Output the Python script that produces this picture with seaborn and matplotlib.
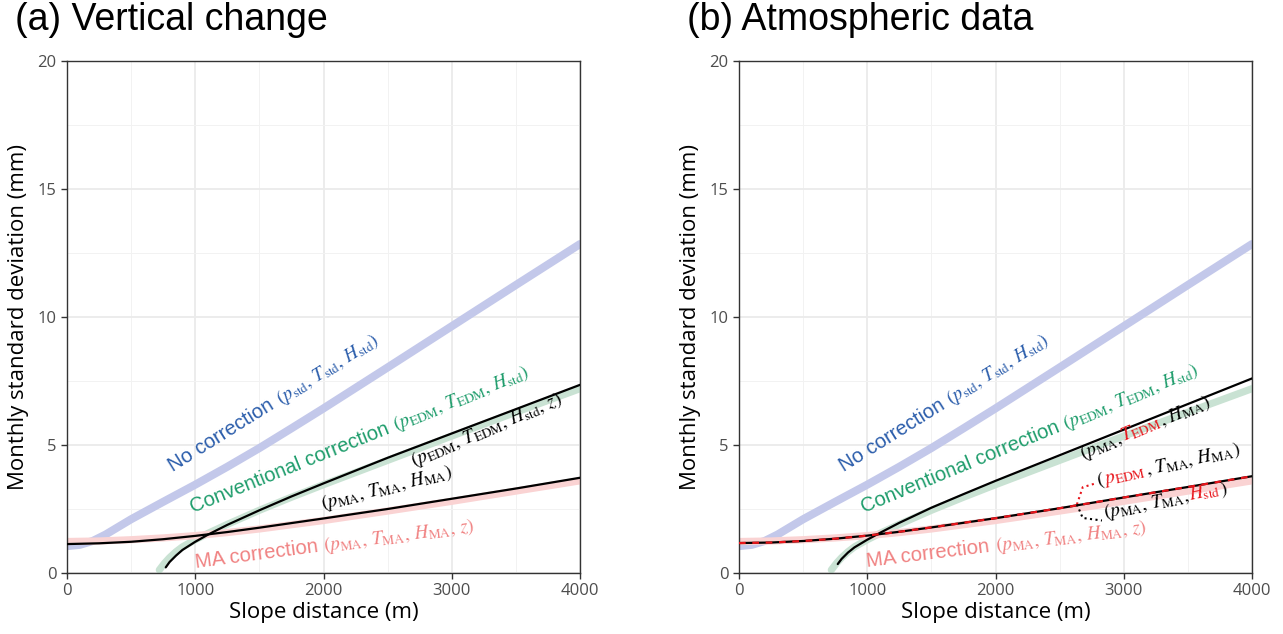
import numpy as np
import pandas as pd
import matplotlib
matplotlib.use('Agg')
import matplotlib.pyplot as plt
from matplotlib.transforms import IdentityTransform
import seaborn as sns

# ---------------- data ----------------
x_none = [0, 100, 200, 300, 400, 500, 750, 1000, 1250, 1500, 1750, 2000, 2500, 3000, 3500, 4000]
y_none = [1.05, 1.1, 1.25, 1.5, 1.8, 2.1, 2.78, 3.45, 4.15, 4.88, 5.65, 6.43, 8.03, 9.64, 11.25, 12.85]

x_conv = [720, 760, 800, 850, 900, 1000, 1100, 1250, 1500, 1750, 2000, 2500, 3000, 3500, 4000]
y_conv = [0.12, 0.38, 0.6, 0.83, 1.02, 1.3, 1.55, 1.9, 2.45, 2.96, 3.45, 4.4, 5.35, 6.28, 7.2]

x_ma = [0, 250, 500, 750, 1000, 1250, 1500, 2000, 2500, 3000, 3500, 4000]
y_ma = [1.23, 1.25, 1.3, 1.37, 1.46, 1.58, 1.72, 2.05, 2.42, 2.8, 3.2, 3.6]

x_blk_conv = [770, 800, 850, 900, 1000, 1100, 1250, 1500, 1750, 2000, 2500, 3000, 3500, 4000]
y_blk_conv_a = [0.22, 0.43, 0.68, 0.9, 1.22, 1.5, 1.88, 2.45, 2.99, 3.5, 4.5, 5.45, 6.4, 7.35]
y_blk_conv_b = [0.35, 0.55, 0.8, 1.0, 1.3, 1.57, 1.96, 2.55, 3.08, 3.6, 4.6, 5.6, 6.6, 7.6]

y_blk_ma_a = [1.13, 1.16, 1.22, 1.32, 1.45, 1.6, 1.77, 2.13, 2.5, 2.9, 3.3, 3.72]
y_blk_ma_b = [1.17, 1.19, 1.25, 1.34, 1.46, 1.61, 1.78, 2.14, 2.53, 2.95, 3.36, 3.78]

titles = ['(a) Vertical change', '(b) Atmospheric data']

# ---------------- style ----------------
sns.set_theme(style='ticks')
plt.rcParams['font.family'] = ['Liberation Sans', 'DejaVu Sans']
plt.rcParams['mathtext.fontset'] = 'stix'

C_BLUE_L, C_BLUE_T = '#c3c8ea', '#2b5dab'
C_GREEN_L, C_GREEN_T = '#c9e2d3', '#1f9d6c'
C_PINK_L, C_PINK_T = '#fad3d3', '#f08282'
C_RED = '#e8151b'

SANS_SZ = 14.6
MATH_SZ = 13.8

fig = plt.figure(figsize=(12.83, 6.34), dpi=100)
renderer = fig.canvas.get_renderer()

lefts = [67 / 1283, 739 / 1283]
axes = []
for i, l in enumerate(lefts):
    ax = fig.add_axes([l, 61 / 634, 513 / 1283, 512 / 634])
    axes.append(ax)

df_none = pd.DataFrame({'x': x_none, 'y': y_none})
df_conv = pd.DataFrame({'x': x_conv, 'y': y_conv})
df_ma = pd.DataFrame({'x': x_ma, 'y': y_ma})


def rich_text(ax, x, y, parts, angle):
    # draw a rotated string made of several coloured pieces
    px, py = ax.transData.transform((x, y))
    th = np.deg2rad(angle)
    for s, color in parts:
        size = MATH_SZ if s.startswith('$') else SANS_SZ
        ax.text(px, py, s, transform=IdentityTransform(), rotation=angle,
                rotation_mode='anchor', ha='left', va='baseline',
                color=color, fontsize=size, zorder=5)
        tmp = fig.text(0, 0, s, fontsize=size)
        w = tmp.get_window_extent(renderer).width
        tmp.remove()
        px += w * np.cos(th)
        py += w * np.sin(th)


for i, ax in enumerate(axes):
    sns.lineplot(data=df_none, x='x', y='y', ax=ax, color=C_BLUE_L, lw=5.8, zorder=2)
    sns.lineplot(data=df_conv, x='x', y='y', ax=ax, color=C_GREEN_L, lw=5.2, zorder=2)
    sns.lineplot(data=df_ma, x='x', y='y', ax=ax, color=C_PINK_L, lw=5.2, zorder=2)

    y_c = y_blk_conv_a if i == 0 else y_blk_conv_b
    y_m = y_blk_ma_a if i == 0 else y_blk_ma_b
    ax.plot(x_blk_conv, y_c, color='black', lw=1.6, zorder=3)
    ax.plot(x_ma, y_m, color='black', lw=1.6, zorder=3)
    if i == 1:
        ax.plot(x_ma, y_m, color=C_RED, lw=1.6, dashes=(3, 3), zorder=4)

    ax.set_xlim(0, 4000)
    ax.set_ylim(0, 20)
    ax.set_xticks([0, 1000, 2000, 3000, 4000])
    ax.set_yticks([0, 5, 10, 15, 20])
    ax.set_xticks(np.arange(500, 4000, 1000), minor=True)
    ax.set_yticks(np.arange(2.5, 20, 5), minor=True)
    ax.grid(which='major', color='#ebebeb', lw=1.3, zorder=0)
    ax.grid(which='minor', color='#f2f2f2', lw=0.7, zorder=0)
    ax.set_axisbelow(True)
    ax.tick_params(which='major', direction='out', length=4, width=1,
                   color='#333333', labelcolor='#4d4d4d', labelsize=12)
    ax.tick_params(which='minor', length=0)
    for t in ax.get_xticklabels() + ax.get_yticklabels():
        t.set_family('Open Sans')
    for sp in ax.spines.values():
        sp.set_visible(True)
        sp.set_color('#333333')
        sp.set_linewidth(1)
    ax.set_xlabel('Slope distance (m)', fontsize=16, family='Open Sans',
                  color='black', labelpad=2)
    ax.set_ylabel('Monthly standard deviation (mm)', fontsize=16, family='Open Sans',
                  color='black', labelpad=6)
    fig.text(lefts[i] - 52 / 1283, 1 - 2 / 634, titles[i], fontsize=27,
             color='black', ha='left', va='top')

# panel (a) labels
ax = axes[0]
rich_text(ax, 830, 3.95, [('No correction ', C_BLUE_T),
                          (r'$(p_{\mathrm{std}},\,T_{\mathrm{std}},\,H_{\mathrm{std}})$', C_BLUE_T)], 32)
rich_text(ax, 985, 2.35, [('Conventional correction ', C_GREEN_T),
                          (r'$(p_{\mathrm{EDM}},\,T_{\mathrm{EDM}},\,H_{\mathrm{std}})$', C_GREEN_T)], 22)
rich_text(ax, 2700, 4.15, [(r'$(p_{\mathrm{EDM}},\,T_{\mathrm{EDM}},\,H_{\mathrm{std}},\,z)$', 'black')], 23)
rich_text(ax, 1990, 2.5, [(r'$(p_{\mathrm{MA}},\,T_{\mathrm{MA}},\,H_{\mathrm{MA}})$', 'black')], 14)
rich_text(ax, 1005, 0.2, [('MA correction ', C_PINK_T),
                          (r'$(p_{\mathrm{MA}},\,T_{\mathrm{MA}},\,H_{\mathrm{MA}},\,z)$', C_PINK_T)], 7.5)

# panel (b) labels
ax = axes[1]
rich_text(ax, 820, 3.95, [('No correction ', C_BLUE_T),
                          (r'$(p_{\mathrm{std}},\,T_{\mathrm{std}},\,H_{\mathrm{std}})$', C_BLUE_T)], 32)
rich_text(ax, 975, 2.35, [('Conventional correction ', C_GREEN_T),
                          (r'$(p_{\mathrm{EDM}},\,T_{\mathrm{EDM}},\,H_{\mathrm{std}})$', C_GREEN_T)], 22.5)
rich_text(ax, 2680, 4.45, [(r'$(p_{\mathrm{MA}},\,$', 'black'),
                           (r'$T_{\mathrm{EDM}}$', C_RED),
                           (r'$,\,H_{\mathrm{MA}})$', 'black')], 22.5)
rich_text(ax, 2795, 3.4, [(r'$($', 'black'),
                          (r'$p_{\mathrm{EDM}}$', C_RED),
                          (r'$,\,T_{\mathrm{MA}},\,H_{\mathrm{MA}})$', 'black')], 12.5)
rich_text(ax, 2850, 2.15, [(r'$(p_{\mathrm{MA}},\,T_{\mathrm{MA}},\,$', 'black'),
                           (r'$H_{\mathrm{std}}$', C_RED),
                           (r'$)$', 'black')], 11.5)
rich_text(ax, 1000, 0.25, [('MA correction ', C_PINK_T),
                           (r'$(p_{\mathrm{MA}},\,T_{\mathrm{MA}},\,H_{\mathrm{MA}},\,z)$', C_PINK_T)], 7)

# leader lines
ax.plot([2635, 2680, 2780], [2.68, 3.35, 3.5], color=C_RED, lw=1.5, ls=':', zorder=4)
ax.plot([2635, 2680, 2830], [2.68, 2.15, 2.05], color='black', lw=1.5, ls=':', zorder=4)

fig.savefig('out.png', dpi=100)
